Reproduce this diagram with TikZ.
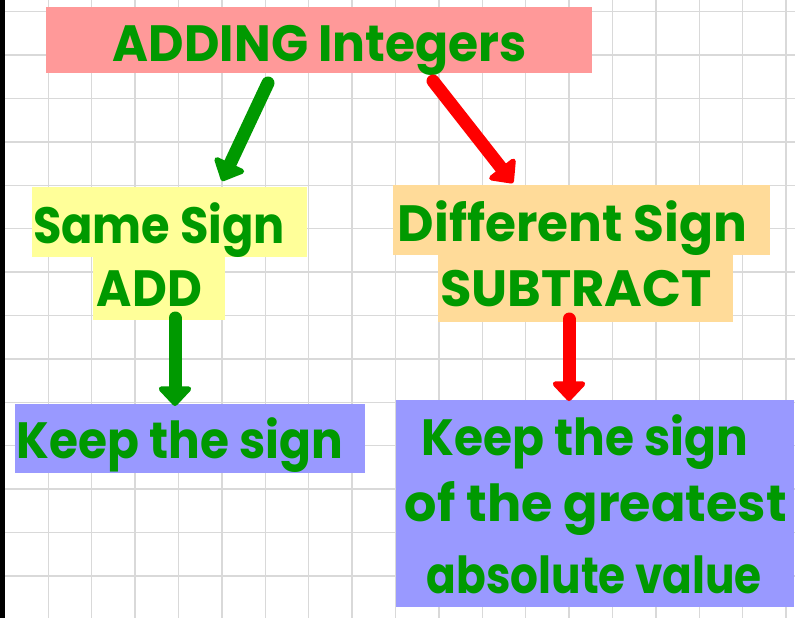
\documentclass[tikz,border=0pt]{standalone}
\usepackage{fontspec}
\setmainfont{Poppins}
\usetikzlibrary{arrows.meta}
\definecolor{pinkbox}{HTML}{FF9999}
\definecolor{yellowbox}{HTML}{FFFF99}
\definecolor{orangebox}{HTML}{FFDB99}
\definecolor{purplebox}{HTML}{9999FF}
\definecolor{txtgreen}{HTML}{009900}
\definecolor{arrred}{HTML}{FF0000}
\definecolor{gridgray}{HTML}{D9D9D9}
\newcommand{\fitw}[2]{\resizebox{#1}{\height}{\fontsize{51pt}{60pt}\selectfont\bfseries #2}}
\tikzset{
  panel/.style n args={3}{draw=none, fill=#1, inner sep=0pt, outer sep=0pt, minimum width=#2, minimum height=#3},
  lbl/.style={inner sep=0pt, outer sep=0pt, anchor=base, text=txtgreen},
  fatarrow/.style={line width=13pt, line cap=round, draw=#1,
    -{Triangle[width=38pt, length=21pt, round]}},
}
\begin{document}
\begin{tikzpicture}[x=1pt, y=-1pt]
\useasboundingbox (0,0) rectangle (795,618);
\fill[white] (0,0) rectangle (795,618);
% grid
\foreach \k in {0,...,17} {
  \draw[gridgray, line width=1.4pt] (48.3+43.4*\k,0) -- (48.3+43.4*\k,618);
}
\foreach \k in {0,...,13} {
  \draw[gridgray, line width=1.4pt] (0,11.6+43.4*\k) -- (795,11.6+43.4*\k);
}
\fill[black] (0,0) rectangle (5,618);
% boxes
\node[panel={pinkbox}{546pt}{66pt}] (title) at (319,40.3) {};
\node[panel={yellowbox}{275.3pt}{69.4pt}] (same1) at (169.35,222) {};
\node[panel={yellowbox}{131.7pt}{63.3pt}] (same2) at (159.15,288.35) {};
\node[panel={orangebox}{376.7pt}{70pt}] (diff1) at (581.65,220) {};
\node[panel={orangebox}{295pt}{66.7pt}] (diff2) at (585.8,288.35) {};
\node[panel={purplebox}{350.3pt}{68.7pt}] (keepL) at (189.85,438.35) {};
\node[panel={purplebox}{398pt}{206.7pt}] (keepR) at (594.5,503.35) {};
% texts
\node[lbl] (tTitle) at (320,62) {\fitw{414pt}{ADDING Integers}};
\node[lbl] (tSame) at (159,243) {\fitw{252pt}{Same Sign}};
\node[lbl] (tAdd) at (149.5,306.7) {\fitw{105pt}{ADD}};
\node[lbl] (tDiff) at (572.5,241.7) {\fitw{349pt}{Different Sign}};
\node[lbl] (tSub) at (576,306.7) {\fitw{272pt}{SUBTRACT}};
\node[lbl] (tKeepL) at (180,458) {\fitw{326pt}{Keep the sign}};
\node[lbl] (tKeepR1) at (585,455) {\fitw{326.6pt}{Keep the sign}};
\node[lbl] (tKeepR2) at (595.8,521.7) {\fitw{381.7pt}{of the greatest}};
\node[lbl] (tKeepR3) at (594.2,593.3) {\fitw{335pt}{absolute value}};
% arrow ends
\coordinate (g1s) at (268,83);
\coordinate (g1e) at (222,181);
\coordinate (r1s) at (433,81);
\coordinate (r1e) at (513,183);
\coordinate (g2s) at (175,318);
\coordinate (g2e) at (175,406);
\coordinate (r2s) at (569,319);
\coordinate (r2e) at (569,401);
\draw[fatarrow=txtgreen] (g1s) -- (g1e);
\draw[fatarrow=arrred] (r1s) -- (r1e);
\draw[fatarrow=txtgreen] (g2s) -- (g2e);
\draw[fatarrow=arrred] (r2s) -- (r2e);
\end{tikzpicture}
\end{document}
